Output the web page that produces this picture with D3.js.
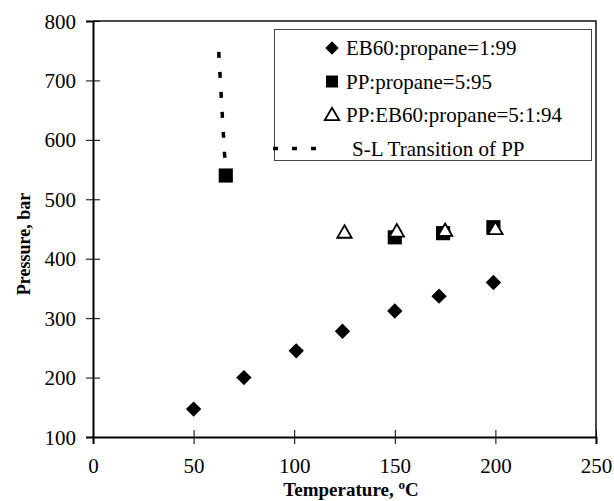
<!DOCTYPE html>
<html>
<head>
<meta charset="utf-8">
<script src="https://cdn.jsdelivr.net/npm/d3@7"></script>
<style>
	body { margin: 0; background: #fff; }
</style>
</head>
<body>
<div id="chart1"></div>
<script>
'use strict';

// EB60:propane=1:99
var ebTemp = [50, 75, 101, 124, 150, 172, 199];
var ebPress = [147, 200, 245, 278, 312, 337, 360];

// PP:propane=5:95
var ppTemp = [66, 150, 174, 199];
var ppPress = [540, 436, 443, 453];

// PP:EB60:propane=5:1:94
var mixTemp = [125, 151, 175, 200];
var mixPress = [444, 446, 447, 450];

// S-L transition of PP (dashed)
var slTemp = [62.5, 64.2, 66];
var slPress = [748, 645, 540];

var xTicks = [0, 50, 100, 150, 200, 250];
var yTicks = [100, 200, 300, 400, 500, 600, 700, 800];

var legendLabels = ['EB60:propane=1:99', 'PP:propane=5:95', 'PP:EB60:propane=5:1:94', 'S-L Transition of PP'];

var serif = '"Liberation Serif", "Times New Roman", Times, serif';

var width = 614, height = 501;
var margin = {left: 93, top: 21, right: 18, bottom: 64};
var w = width - margin.left - margin.right;
var h = height - margin.top - margin.bottom;

var svg = d3.select('#chart1').append('svg')
	.attr('width', width)
	.attr('height', height)
	.style('font-family', serif);

var x = d3.scaleLinear().domain([0, 250]).range([0, w]);
var y = d3.scaleLinear().domain([100, 800]).range([h, 0]);

var g = svg.append('g')
	.attr('transform', 'translate(' + margin.left + ',' + margin.top + ')');

// frame (top + right)
g.append('path')
	.attr('d', 'M0,0H' + w + 'V' + h)
	.attr('fill', 'none')
	.attr('stroke', '#111')
	.attr('stroke-width', 1.5);

var zip = function(a, b) {
	return a.map(function(v, i) { return [v, b[i]]; });
};

// axes, ticks cross the axis line
var xAxis = g.append('g')
	.attr('transform', 'translate(0,' + h + ')')
	.call(d3.axisBottom(x).tickValues(xTicks).tickSize(7).tickPadding(15));
var yAxis = g.append('g')
	.call(d3.axisLeft(y).tickValues(yTicks).tickSize(7).tickPadding(10));

[xAxis, yAxis].forEach(function(ax) {
	ax.attr('font-family', null).attr('font-size', null);
	ax.select('.domain').attr('stroke', '#000').attr('stroke-width', 2);
	ax.selectAll('.tick line').attr('stroke', '#000').attr('stroke-width', 1);
	ax.selectAll('.tick text')
		.attr('fill', '#000')
		.style('font-family', serif)
		.style('font-size', '21px');
});
xAxis.selectAll('.tick line').attr('y1', -7);
xAxis.selectAll('.tick text').attr('dy', '0.68em');
yAxis.selectAll('.tick line').attr('x1', 7);
yAxis.selectAll('.tick text').attr('dy', '0.34em');

// S-L transition line
var line = d3.line()
	.x(function(d) { return x(d[0]); })
	.y(function(d) { return y(d[1]); });

g.append('path')
	.datum(zip(slTemp, slPress))
	.attr('d', line)
	.attr('fill', 'none')
	.attr('stroke', '#000')
	.attr('stroke-width', 3.5)
	.attr('stroke-dasharray', '6,14');

var diamond = d3.symbol().type(d3.symbolSquare).size(118);
var square = d3.symbol().type(d3.symbolSquare).size(200);
var triangle = d3.symbol().type(d3.symbolTriangle).size(90);

g.selectAll('path.eb')
	.data(zip(ebTemp, ebPress))
	.enter().append('path')
	.attr('class', 'eb')
	.attr('d', diamond)
	.attr('transform', function(d) {
		return 'translate(' + x(d[0]) + ',' + y(d[1]) + ') rotate(45)';
	})
	.attr('fill', '#000');

g.selectAll('path.pp')
	.data(zip(ppTemp, ppPress))
	.enter().append('path')
	.attr('class', 'pp')
	.attr('d', square)
	.attr('transform', function(d) {
		return 'translate(' + x(d[0]) + ',' + y(d[1]) + ')';
	})
	.attr('fill', '#000');

g.selectAll('path.mix')
	.data(zip(mixTemp, mixPress))
	.enter().append('path')
	.attr('class', 'mix')
	.attr('d', triangle)
	.attr('transform', function(d) {
		return 'translate(' + x(d[0]) + ',' + (y(d[1]) + 1) + ')';
	})
	.attr('fill', '#fff')
	.attr('stroke', '#000')
	.attr('stroke-width', 1.8);

// axis titles
var xTitle = svg.append('text')
	.attr('x', 351)
	.attr('y', 496)
	.attr('text-anchor', 'middle')
	.style('font-size', '19px')
	.style('font-weight', 'bold');
xTitle.append('tspan').text('Temperature, ');
xTitle.append('tspan')
	.attr('dy', -7)
	.style('font-size', '13px')
	.text('o');
xTitle.append('tspan')
	.attr('dy', 7)
	.text('C');

svg.append('text')
	.attr('transform', 'translate(30,244) rotate(-90)')
	.attr('text-anchor', 'middle')
	.style('font-size', '18px')
	.style('font-weight', 'bold')
	.text('Pressure, bar');

// legend
var legend = svg.append('g');
legend.append('rect')
	.attr('x', 274.5)
	.attr('y', 29.5)
	.attr('width', 317)
	.attr('height', 131)
	.attr('fill', '#fff')
	.attr('stroke', '#444')
	.attr('stroke-width', 1);

var rowY = [48, 81.5, 115, 148.5];
var symX = 332;

legend.append('path')
	.attr('d', d3.symbol().type(d3.symbolSquare).size(90))
	.attr('transform', 'translate(' + symX + ',' + rowY[0] + ') rotate(45)')
	.attr('fill', '#000');
legend.append('path')
	.attr('d', d3.symbol().type(d3.symbolSquare).size(144))
	.attr('transform', 'translate(' + symX + ',' + rowY[1] + ')')
	.attr('fill', '#000');
legend.append('path')
	.attr('d', triangle)
	.attr('transform', 'translate(' + symX + ',' + (rowY[2] + 1) + ')')
	.attr('fill', '#fff')
	.attr('stroke', '#000')
	.attr('stroke-width', 1.8);
legend.append('line')
	.attr('x1', 273).attr('x2', 319)
	.attr('y1', rowY[3]).attr('y2', rowY[3])
	.attr('stroke', '#000')
	.attr('stroke-width', 3.5)
	.attr('stroke-dasharray', '5,14');

legend.selectAll('text.lab')
	.data(legendLabels)
	.enter().append('text')
	.attr('class', 'lab')
	.attr('x', function(d, i) { return i === 3 ? 352 : 346; })
	.attr('y', function(d, i) { return rowY[i]; })
	.attr('dy', '0.34em')
	.style('font-size', '21px')
	.text(function(d) { return d; });
</script>
</body>
</html>
